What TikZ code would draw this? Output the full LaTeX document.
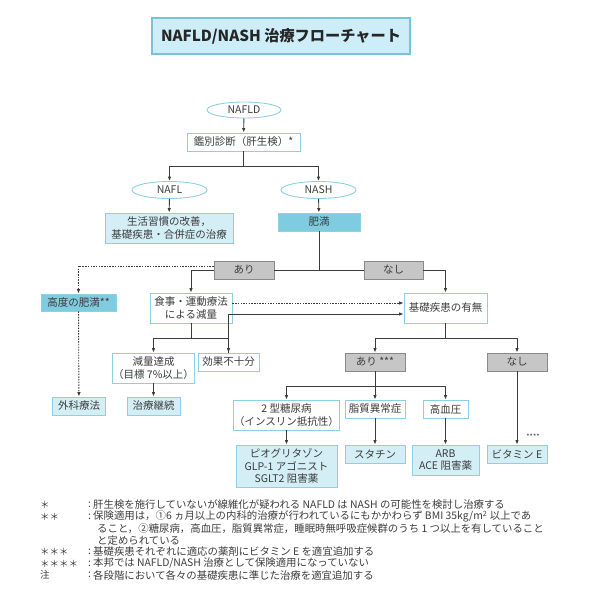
\documentclass[tikz,border=0pt]{standalone}
\usepackage{fontspec}
\setmainfont{Noto Sans CJK JP}
\usepackage{xcolor}
\usetikzlibrary{arrows.meta, shapes.geometric, positioning}

\definecolor{cyanline}{HTML}{8CD0E2}
\definecolor{paleblue}{HTML}{D4EEF6}
\definecolor{midblue}{HTML}{7FCBE0}
\definecolor{grayfill}{HTML}{C6C6C6}
\definecolor{grayline}{HTML}{8A8A8A}
\definecolor{ink}{HTML}{3C3C3C}
\definecolor{titlefill}{HTML}{CDEEF8}
\definecolor{titleline}{HTML}{79C3DA}

\tikzset{
  box/.style={draw=cyanline, line width=0.9pt, fill=white, text=ink,
    font=\fontsize{10.5}{12.5}\selectfont, align=center, inner sep=1pt},
  pale/.style={box, fill=paleblue},
  deep/.style={box, fill=midblue},
  yesno/.style={box, draw=grayline, fill=grayfill},
  oval/.style={box, ellipse, inner sep=0pt},
  link/.style={draw=ink, line width=0.9pt},
  dotlink/.style={link, dash pattern=on 1.5pt off 1.2pt},
  fnote/.style={anchor=west, text=ink, font=\fontsize{10.4}{11}\selectfont, inner sep=0pt},
}

\begin{document}
\begin{tikzpicture}[x=1pt, y=-1pt, >={Latex[length=4.5pt,width=3.6pt]}]
    \useasboundingbox (0,0) rectangle (593,600);

    % タイトル
    \node[draw=titleline, fill=titlefill, line width=1.2pt, minimum width=258pt,
      minimum height=36pt, text=black!85, font=\fontsize{15.2}{17}\selectfont\bfseries]
      (title) at (281,36) {NAFLD/NASH 治療フローチャート};

    % 上段
    \node[oval, minimum width=74pt, minimum height=16pt] (nafld) at (244,110) {NAFLD};
    \node[box, minimum width=113pt, minimum height=18pt] (diag) at (243.5,142) {鑑別診断（肝生検）*};
    \node[oval, minimum width=75pt, minimum height=17pt] (nafl) at (169.5,190) {NAFL};
    \node[oval, minimum width=75pt, minimum height=17pt] (nash) at (318.5,190) {NASH};
    \node[pale, minimum width=128pt, minimum height=30pt] (life) at (169,228)
      {生活習慣の改善，\\基礎疾患・合併症の治療};
    \node[deep, minimum width=82pt, minimum height=18pt] (obese) at (319,222) {肥満};

    % 肥満の有無
    \node[yesno, minimum width=60pt, minimum height=18pt] (ari1) at (244,270) {あり};
    \node[yesno, minimum width=59pt, minimum height=18pt] (nashi1) at (393.5,270) {なし};
    \node[deep, minimum width=75pt, minimum height=17pt] (severe) at (78.5,302.5) {高度の肥満**};
    \node[box, minimum width=82pt, minimum height=30pt] (diet) at (191,308) {食事・運動療法\\による減量};
    \node[box, minimum width=83pt, minimum height=30pt] (basis) at (445.5,308) {基礎疾患の有無};
    \node[box, minimum width=79pt, minimum height=30pt] (achieved) at (153.5,368) {減量達成\\（目標 7\%以上）};
    \node[box, minimum width=61pt, minimum height=18pt] (insuff) at (228.5,362) {効果不十分};
    \node[pale, minimum width=53pt, minimum height=18pt] (cont) at (153.5,406) {治療継続};
    \node[pale, minimum width=53pt, minimum height=18pt] (surg) at (79,406) {外科療法};

    % 基礎疾患
    \node[yesno, minimum width=60pt, minimum height=18pt] (ari2) at (375,362) {あり ***};
    \node[yesno, minimum width=60pt, minimum height=18pt] (nashi2) at (517,362) {なし};
    \node[box, minimum width=101pt, minimum height=30pt] (dm) at (286.5,415) {2 型糖尿病\\（インスリン抵抗性）};
    \node[box, minimum width=60pt, minimum height=18pt] (lipid) at (375,409) {脂質異常症};
    \node[box, minimum width=45pt, minimum height=18pt] (htn) at (445.5,409) {高血圧};
    \node[pale, minimum width=101pt, minimum height=42pt] (pio) at (286.5,466)
      {ピオグリタゾン\\GLP-1 アゴニスト\\SGLT2 阻害薬};
    \node[pale, minimum width=60pt, minimum height=18pt] (statin) at (375,454) {スタチン};
    \node[pale, minimum width=67pt, minimum height=30pt] (arb) at (445.5,460) {ARB\\ACE 阻害薬};
    \node[pale, minimum width=60pt, minimum height=18pt] (vite) at (517,454) {ビタミン E};
    \node[text=ink, font=\fontsize{7}{8}\selectfont, inner sep=0pt] (vnote) at (533,437) {****};

    % 分岐点
    \coordinate (fork1) at (243.5,166);
    \coordinate (fork2) at (191,338);
    \coordinate (fork3) at (445.5,338);
    \coordinate (fork4) at (375,386);

    % 矢印
    \draw[link,->] (nafld) -- (diag);
    \draw[link,->] (diag) -- (fork1) -| (nafl);
    \draw[link,->] (fork1) -| (nash);
    \draw[link,->] (nafl) -- (life);
    \draw[link,->] (nash) -- (obese);
    \draw[link] (ari1) -- (nashi1);
    \draw[link] (obese) -- (obese |- ari1);
    \draw[link,->] (ari1.west) -| (diet);
    \draw[dotlink,->] ([yshift=4pt]ari1.west) -| (severe);
    \draw[link,->] (nashi1.east) -| (basis);
    \draw[dotlink,->] (severe) -- (surg);
    \draw[dotlink,->] ([yshift=5pt]diet.east) -- ([yshift=5pt]basis.west);
    \draw[link,->] (insuff) |- ([yshift=-6pt]basis.west);
    \draw[link,->] (diet) -- (fork2) -| (achieved);
    \draw[link,->] (fork2) -| (insuff);
    \draw[link,->] (achieved) -- (cont);
    \draw[link,->] (basis) -- (fork3) -| (ari2);
    \draw[link,->] (fork3) -| (nashi2);
    \draw[link,->] (ari2) -- (lipid);
    \draw[link,->] (fork4) -| (dm);
    \draw[link,->] (fork4) -| (htn);
    \draw[link,->] (dm) -- (pio);
    \draw[link,->] (lipid) -- (statin);
    \draw[link,->] (htn) -- (arb);
    \draw[link,->] (nashi2) -- (vite);

    % 脚注
    \foreach \mk/\yy [count=\i] in {＊/505, ＊＊/516.7, ＊＊＊/551.8, ＊＊＊＊/563.5, 注/575.2} {
      \node[fnote, font=\fontsize{9.5}{10}\selectfont] (mark\i) at (40,\yy) {\mk};
      \node[fnote] (colon\i) at (88,\yy) {:};
    }
    \node[fnote] (fn1) at (93,505) {肝生検を施行していないが線維化が疑われる NAFLD は NASH の可能性を検討し治療する};
    \node[fnote] (fn2) at (93,516.7) {保険適用は，①6 ヵ月以上の内科的治療が行われているにもかかわらず BMI 35kg/m\textsuperscript{2} 以上であ};
    \node[fnote] (fn2b) at (97,528.4) {ること，②糖尿病，高血圧，脂質異常症，睡眠時無呼吸症候群のうち 1 つ以上を有していること};
    \node[fnote] (fn2c) at (97,540.1) {と定められている};
    \node[fnote] (fn3) at (93,551.8) {基礎疾患それぞれに適応の薬剤にビタミン E を適宜追加する};
    \node[fnote] (fn4) at (93,563.5) {本邦では NAFLD/NASH 治療として保険適用になっていない};
    \node[fnote] (fn5) at (93,575.2) {各段階において各々の基礎疾患に準じた治療を適宜追加する};
\end{tikzpicture}
\end{document}
